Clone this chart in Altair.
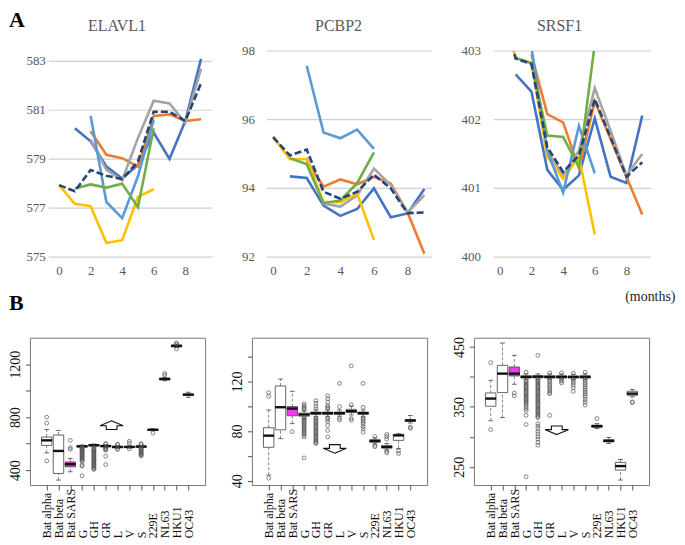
import altair as alt
import pandas as pd

SERIF = "Liberation Serif"

# ---------------- Panel A data (months 0..9) ----------------
MONTHS = list(range(10))
SERIES = ["s1", "s2", "s3", "s4", "s5", "s6", "mean"]
COLORS = ["#4472C4", "#ED7D31", "#A5A5A5", "#FFC000", "#5B9BD5", "#70AD47", "#264478"]

ELAVL1 = {
    "s1": [None, 580.26, 579.73, 578.70, 578.21, 578.77, 580.08, 579.01, 580.56, 583.10],
    "s2": [None, None, 580.14, 579.18, 579.04, 578.70, 580.77, 580.83, 580.56, 580.63],
    "s3": [None, None, 579.80, 578.56, 578.14, 579.87, 581.39, 581.28, 580.49, 582.70],
    "s4": [577.94, 577.18, 577.08, 575.57, 575.69, 577.46, 577.77, None, None, None],
    "s5": [None, None, 580.77, 577.25, 576.59, 578.30, 580.60, None, None, None],
    "s6": [None, 577.80, 577.97, 577.84, 578.00, 577.04, 580.26, None, None, None],
    "mean": [577.94, 577.69, 578.56, 578.32, 578.19, 578.90, 580.94, 580.94, 580.56, 582.10],
}
PCBP2 = {
    "s1": [None, 94.35, 94.30, 93.50, 93.20, 93.40, 94.00, 93.16, 93.27, 93.98],
    "s2": [None, None, 94.80, 94.05, 94.26, 94.12, 94.34, 94.14, 93.30, 92.10],
    "s3": [None, None, 94.90, 93.56, 93.47, 93.80, 94.58, 94.10, 93.30, 93.80],
    "s4": [95.50, 94.85, 94.85, 93.60, 93.60, 93.85, 92.50, None, None, None],
    "s5": [None, None, 97.57, 95.63, 95.46, 95.71, 95.15, None, None, None],
    "s6": [None, 94.88, 94.70, 93.57, 93.65, 94.15, 95.05, None, None, None],
    "mean": [95.49, 94.96, 95.13, 93.90, 93.70, 93.90, 94.40, 94.00, 93.28, 93.30],
}
SRSF1 = {
    "s1": [None, 402.66, 402.41, 401.27, 400.98, 401.19, 402.02, 401.17, 401.08, 402.06],
    "s2": [None, None, 402.95, 402.08, 401.96, 401.29, 402.27, 401.72, 401.17, 400.62],
    "s3": [None, None, 402.85, 401.55, 401.19, 401.55, 402.46, 401.84, 401.19, 401.50],
    "s4": [403.75, 402.90, 402.83, 401.46, 401.14, 401.46, 400.33, None, None, None],
    "s5": [None, None, 403.05, 401.55, 400.94, 401.91, 401.22, None, None, None],
    "s6": [None, 402.90, 402.82, 401.77, 401.75, 401.31, 403.10, None, None, None],
    "mean": [403.80, 402.89, 402.81, 401.60, 401.24, 401.48, 402.30, 401.74, 401.17, 401.38],
}
A_TITLES = ["ELAVL1", "PCBP2", "SRSF1"]
A_YTICKS = [[575, 577, 579, 581, 583], [92, 94, 96, 98], [400, 401, 402, 403]]
A_XTICKS = [0, 2, 4, 6, 8]

# ---------------- Panel B data (box plot summaries) ----------------
CATS = ["Bat alpha", "Bat beta", "Bat SARS", "G", "GH", "GR", "L", "V", "S",
        "229E", "NL63", "HKU1", "OC43"]
POS = list(range(1, 14))
BOX_FILL = ["white", "white", "#F03CF0"] + ["white"] * 10

B1 = dict(
    q1=[587, 375, 425, 575, 583, 577, 570, 571, 574, 700, 1082, 1332, 965],
    med=[625, 545, 445, 580, 588, 582, 575, 575, 578, 705, 1088, 1338, 970],
    q3=[650, 665, 462, 585, 592, 586, 580, 579, 582, 708, 1095, 1345, 975],
    wlo=[530, 325, 388, 565, 575, 570, 565, 566, 568, 698, 1075, 1325, 950],
    whi=[707, 700, 488, 590, 597, 592, 586, 585, 588, 712, 1100, 1352, 988],
)
B1_OUT = {
    1: [800, 755, 470],
    3: [625, 570, 558],
    4: [572, 567, 562, 556, 551, 545, 540, 534, 528, 523, 517, 511, 505, 499, 494, 488,
        481, 474, 466, 440, 430, 358],
    5: [572, 566, 560, 553, 547, 541, 535, 528, 522, 516, 509, 503, 497, 490, 484, 478,
        471, 465, 458, 452, 446, 440, 433, 427, 420, 412, 405],
    6: [600, 597, 568, 562, 556, 550, 505, 442],
    7: [596, 591, 562, 557],
    8: [618, 603, 561],
    9: [600, 594, 566, 561, 555, 549, 543, 537, 531, 525, 519, 513, 507],
    10: [680],
    11: [1130, 1118],
    12: [1360, 1352, 1315],
}
B2 = dict(
    q1=[66.9, 81.0, 92.3, 92.0, 93.5, 93.5, 93.5, 95.0, 93.5, 71.0, 66.3, 72.5, 88.0],
    med=[76.3, 99.2, 98.1, 93.3, 94.4, 94.4, 94.4, 96.0, 94.4, 72.0, 67.2, 76.5, 88.5],
    q3=[82.7, 116.3, 99.7, 94.5, 95.3, 95.3, 95.3, 97.5, 95.3, 73.0, 68.2, 77.3, 89.2],
    wlo=[44.5, 73.9, 86.0, 90.0, 91.5, 91.5, 92.0, 93.0, 91.5, 69.5, 64.8, 65.9, 86.5],
    whi=[97.0, 121.9, 112.0, 96.5, 97.0, 97.0, 97.0, 100.0, 97.0, 74.5, 70.0, 77.9, 92.5],
)
B2_OUT = {
    1: [110.9, 108.0, 42.0],
    3: [79.5],
    4: [101.9, 100.6, 99.4, 98.2, 97.2, 90.8, 89.8, 88.8, 87.8, 86.8, 85.8, 84.8, 83.8,
        82.8, 81.8, 80.8, 79.8, 78.8, 77.8, 76.5, 75.3, 58.4],
    5: [104.5, 102.4, 100.0, 98.0, 90.7, 89.7, 88.7, 87.7, 86.7, 85.7, 84.7, 83.7, 82.7,
        81.7, 80.7, 79.7, 78.7, 77.7, 76.7, 75.7, 74.7, 73.7, 72.7, 71.7, 70.7, 69.9],
    6: [108.5, 105.9, 103.4, 100.5, 99.2, 98.2, 90.8, 89.2, 87.5, 84.5, 80.5, 75.2],
    7: [118.4, 99.7, 90.2, 88.8],
    8: [132.5, 101.3, 90.2, 88.8],
    9: [118.4, 99.2, 90.8, 89.5, 88.2, 86.8, 85.5, 83.5, 81.8, 79.2],
    10: [75.6, 68.5, 67.4],
    11: [77.3, 75.6, 73.5, 63.8, 62.4],
    12: [64.0, 61.9],
    13: [83.2, 82.2],
}
B3 = dict(
    q1=[351.1, 373.9, 401.7, 398.5, 398.5, 398.5, 398.5, 398.5, 398.5, 316.0, 291.5, 244.4, 369.4],
    med=[363.9, 405.6, 405.6, 400.0, 400.5, 400.0, 400.0, 400.0, 400.0, 317.8, 293.3, 251.1, 372.2],
    q3=[373.3, 419.4, 416.7, 402.0, 402.0, 402.0, 402.0, 401.5, 402.0, 319.5, 295.0, 257.2, 376.1],
    wlo=[326.7, 332.2, 387.8, 396.0, 396.0, 396.0, 396.5, 396.0, 396.0, 313.9, 288.9, 227.8, 366.5],
    whi=[394.4, 456.7, 436.1, 405.0, 405.0, 405.0, 405.0, 404.5, 405.0, 322.0, 298.9, 262.2, 378.9],
)
B3_OUT = {
    1: [423.9, 312.2],
    3: [373.3, 368.3],
    4: [408, 394, 392, 390, 388, 386, 384, 382, 380, 378, 376, 374, 372, 370, 368, 366,
        364, 362, 360, 358, 356, 353, 350, 347, 344, 336, 320.6, 233.3],
    5: [436, 396, 394, 392, 390, 388, 386, 384, 382, 380, 378, 376, 374, 372, 370, 368,
        366, 364, 362, 360, 358, 356, 354, 352, 350, 348, 346, 344, 342, 340, 338, 336,
        334, 332, 322, 318, 314, 309, 305, 300, 296, 291, 286],
    6: [406.7, 395, 392, 389, 386, 383, 380, 377, 374, 372, 336],
    7: [406.7, 396, 393, 390],
    8: [406, 396, 393, 390, 386, 382, 376],
    9: [408, 396, 393, 390, 387, 384, 381, 378, 375, 372, 369, 366, 362, 358, 353],
    10: [330.6],
    13: [358.5, 357.2],
}
B_YTICKS = [[400, 600, 800, 1000, 1200], [40, 60, 80, 100, 120, 140], [250, 300, 350, 400, 450]]
B_YLABEL = ["datum.value % 400 == 0 ? datum.label : ''",
            "datum.value % 40 == 0 ? datum.label : ''",
            "(datum.value - 250) % 100 == 0 ? datum.label : ''"]
B_YDOM = [[287.5, 1400], [36.5, 155.2], [219.4, 465.6]]
# arrows: (position, value, direction)
ARROWS = [(6.5, 740, "up"), (6.6, 65.6, "down"), (6.6, 311.0, "down")]

UP_PATH = "M 0 -0.36 L 0.97 0.05 L 0.45 0.05 L 0.45 0.36 L -0.45 0.36 L -0.45 0.05 L -0.97 0.05 Z"
DOWN_PATH = "M 0 0.36 L 0.97 -0.05 L 0.45 -0.05 L 0.45 -0.36 L -0.45 -0.36 L -0.45 -0.05 L -0.97 -0.05 Z"

TOP_H = 207
BOT_H = 148


def text_layers(texts):
    out = []
    for (txt, px, py, size, weight, color, align, baseline) in texts:
        out.append(alt.Chart(pd.DataFrame({"t": [txt]})).mark_text(
            align=align, baseline=baseline, font=SERIF, fontSize=size, fontWeight=weight,
            color=color).encode(x=alt.value(px), y=alt.value(py), text="t:N"))
    return out


def line_panel(i, data, ydom, xdom, gridx, width, ylab_x, title_dx, texts):
    rows = []
    for s in SERIES:
        for m, v in zip(MONTHS, data[s]):
            if v is not None:
                rows.append({"series": s, "month": m, "value": v})
    df = pd.DataFrame(rows)
    xs = alt.Scale(domain=xdom, nice=False, zero=False)
    ys = alt.Scale(domain=ydom, nice=False, zero=False)
    xaxis = alt.Axis(values=A_XTICKS, ticks=False, domain=False, grid=False, title=None,
                     labelFont=SERIF, labelFontSize=13, labelColor="#595959", labelPadding=8,
                     labelFlush=False, labelOverlap=False, format="d")
    grid_df = pd.DataFrame({"v": A_YTICKS[i], "x0": gridx[0], "x1": gridx[1]})
    grid = alt.Chart(grid_df).mark_rule(color="#D0D0D0", strokeWidth=1.2).encode(
        x=alt.X("x0:Q", scale=xs, axis=xaxis),
        x2="x1:Q",
        y=alt.Y("v:Q", scale=ys, axis=None),
    )
    ylabels = alt.Chart(grid_df).mark_text(
        align="right", baseline="middle", font=SERIF, fontSize=13, color="#595959"
    ).encode(x=alt.value(ylab_x), y=alt.Y("v:Q", scale=ys, axis=None),
             text=alt.Text("v:Q", format="d"))
    layers = [grid, ylabels]
    for s, c in zip(SERIES, COLORS):
        sub = df[df.series == s]
        mk = dict(color=c, strokeWidth=2.6, clip=True)
        if s == "mean":
            mk["strokeDash"] = [7, 3]
        layers.append(alt.Chart(sub).mark_line(**mk).encode(
            x=alt.X("month:Q", scale=xs, axis=xaxis),
            y=alt.Y("value:Q", scale=ys, axis=None),
        ))
    texts = texts + [(A_TITLES[i], width / 2 + title_dx, -20, 16, "normal", "#595959",
                      "center", "alphabetic")]
    layers += text_layers(texts)
    return alt.layer(*layers).properties(width=width, height=TOP_H)


def box_panel(i, st, outl, width, texts):
    stats = pd.DataFrame({"pos": POS, **st, "fill": BOX_FILL})
    stats["m0"] = stats.pos - 0.46
    stats["m1"] = stats.pos + 0.46
    stats["c0"] = stats.pos - 0.2
    stats["c1"] = stats.pos + 0.2
    orows = [{"pos": p, "val": v} for p, vals in outl.items() for v in vals]
    odf = pd.DataFrame(orows)
    xs = alt.Scale(domain=[0, 14], nice=False, zero=False)
    ys = alt.Scale(domain=B_YDOM[i], nice=False, zero=False)
    label_arr = "[" + ",".join("'" + c + "'" for c in CATS) + "]"
    xaxis = alt.Axis(values=POS, labelExpr=label_arr + "[datum.value - 1]",
                     labelAngle=270, labelAlign="left", labelBaseline="middle",
                     labelPadding=48, tickSize=5, tickColor="#555", domain=False,
                     grid=False, title=None, labelFont=SERIF, labelFontSize=12,
                     labelColor="#111", labelOverlap=False, labelFlush=False)
    yaxis = alt.Axis(values=B_YTICKS[i], labelExpr=B_YLABEL[i], labelAngle=270,
                     labelAlign="center", labelBaseline="bottom", tickSize=4.5,
                     labelPadding=2.5, tickColor="#555", domain=False, grid=False,
                     title=None, labelFont=SERIF, labelFontSize=14, labelColor="#111",
                     labelOverlap=False, labelFlush=False, format="d")
    X = lambda f: alt.X(f, scale=xs, axis=xaxis)
    Y = lambda f: alt.Y(f, scale=ys, axis=yaxis)
    base = alt.Chart(stats)
    wl = base.mark_rule(color="#666", strokeWidth=0.8, strokeDash=[3, 2]).encode(
        x=X("pos:Q"), y=Y("wlo:Q"), y2="q1:Q")
    wh = base.mark_rule(color="#666", strokeWidth=0.8, strokeDash=[3, 2]).encode(
        x=X("pos:Q"), y=Y("q3:Q"), y2="whi:Q")
    cl = base.mark_rule(color="#555", strokeWidth=0.9).encode(
        x=X("c0:Q"), x2="c1:Q", y=Y("wlo:Q"))
    ch = base.mark_rule(color="#555", strokeWidth=0.9).encode(
        x=X("c0:Q"), x2="c1:Q", y=Y("whi:Q"))
    box = base.mark_bar(size=10.5, stroke="#555", strokeWidth=0.9).encode(
        x=X("pos:Q"), y=Y("q1:Q"), y2="q3:Q", fill=alt.Fill("fill:N", scale=None))
    med = base.mark_rule(color="#111", strokeWidth=2.4).encode(
        x=X("m0:Q"), x2="m1:Q", y=Y("med:Q"))
    pts = alt.Chart(odf).mark_point(shape="circle", size=15, filled=False, color="#555",
                                    strokeWidth=0.7, opacity=1).encode(
        x=X("pos:Q"), y=Y("val:Q"))
    ap, av, ad = ARROWS[i]
    arrow = alt.Chart(pd.DataFrame({"ax": [ap], "ay": [av]})).mark_point(
        shape=UP_PATH if ad == "up" else DOWN_PATH, size=576, filled=True,
        fill="white", stroke="#111", strokeWidth=1.1, opacity=1).encode(
        x=X("ax:Q"), y=Y("ay:Q"))
    layers = [wl, wh, cl, ch, box, med, pts, arrow] + text_layers(texts)
    return alt.layer(*layers).properties(
        width=width, height=BOT_H,
        view=alt.ViewBackground(stroke="#777", strokeWidth=1),
    )


p1 = line_panel(0, ELAVL1, [575, 583.42], [-1.85, 9.70], [-0.65, 9.70], 183, 16, -4,
                [("A", -21, -41, 22, "bold", "black", "left", "top")])
p2 = line_panel(1, PCBP2, [92, 98], [-0.373, 9.46], [-0.373, 9.46], 166, -12, -11, [])
p3 = line_panel(2, SRSF1, [400, 403], [-0.818, 9.56], [-0.377, 9.56], 165, -6, -9.5, [])

b1 = box_panel(0, B1, B1_OUT, 176, [("B", -21, -45, 22, "bold", "black", "left", "top")])
b2 = box_panel(1, B2, B2_OUT, 176, [])
b3 = box_panel(2, B3, B3_OUT, 176,
               [("(months)", 152, -48, 14, "normal", "#222", "left", "top")])

top = alt.hconcat(p1, p2, p3, spacing=55, bounds="flush")
bottom = alt.hconcat(b1, b2, b3, spacing=47, bounds="flush")
chart = alt.vconcat(top, bottom, spacing=11).properties(
    padding=0, background="white"
).configure_view(stroke=None)

chart.save("out.html", embed_options={"renderer": "svg", "actions": False})
